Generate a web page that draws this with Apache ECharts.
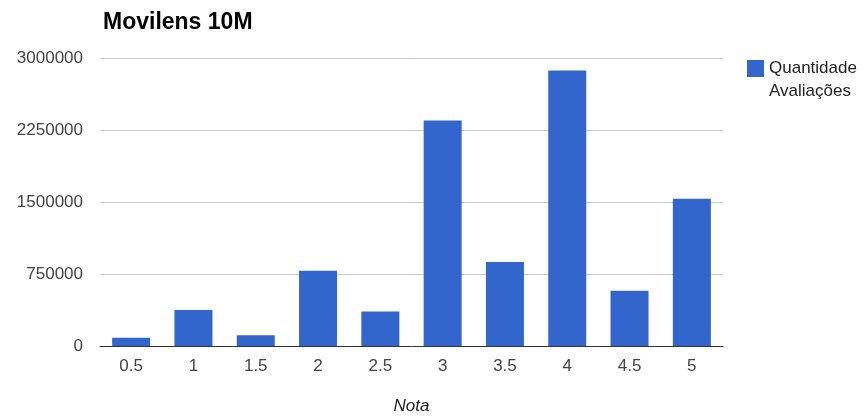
<!DOCTYPE html>
<html>
<head>
<meta charset="utf-8">
<script src="https://cdn.jsdelivr.net/npm/echarts@6/dist/echarts.min.js"></script>
<style>
  html, body { margin: 0; padding: 0; background: #fff; }
  #chart { width: 863px; height: 419px; }
</style>
</head>
<body>
<div id="chart"></div>
<script>
// Rating buckets and number of ratings in each
const notas = ['0.5', '1', '1.5', '2', '2.5', '3', '3.5', '4', '4.5', '5'];
const quantidade = [85000, 375000, 112000, 785000, 360000, 2350000, 875000, 2870000, 575000, 1535000];
const yTicks = [0, 750000, 1500000, 2250000, 3000000];

const FONT = '"Liberation Sans", Arial, sans-serif';

const chart = echarts.init(document.getElementById('chart'), null, { renderer: 'canvas' });

chart.setOption({
  backgroundColor: '#ffffff',
  animation: false,
  title: {
    text: 'Movilens 10M',
    left: 98,
    top: 6,
    textStyle: { fontFamily: FONT, fontSize: 23, fontWeight: 'bold', color: '#000' }
  },
  legend: {
    left: 742,
    top: 29,
    orient: 'vertical',
    itemWidth: 17,
    itemHeight: 17,
    icon: 'rect',
    // leading blank line keeps the swatch level with the first line of text
    formatter: () => ' \nQuantidade\nAvaliações',
    textStyle: { fontFamily: FONT, fontSize: 17, color: '#222', lineHeight: 23 },
    data: ['Quantidade Avaliações']
  },
  grid: { left: 100, right: 140, top: 58, bottom: 73, outerBoundsMode: 'none', containLabel: false },
  xAxis: {
    type: 'category',
    data: notas,
    name: 'Nota',
    nameLocation: 'middle',
    nameGap: 52,
    nameTextStyle: { fontFamily: FONT, fontSize: 17, fontStyle: 'italic', color: '#222' },
    axisLine: { lineStyle: { color: '#333', width: 1 } },
    axisTick: { show: false },
    axisLabel: { fontFamily: FONT, fontSize: 17, color: '#444', margin: 12 }
  },
  yAxis: {
    type: 'value',
    min: yTicks[0],
    max: yTicks[yTicks.length - 1],
    interval: yTicks[1] - yTicks[0],
    axisLine: { show: false },
    axisTick: { show: false },
    splitLine: { lineStyle: { color: '#cccccc', width: 1 } },
    axisLabel: {
      fontFamily: FONT, fontSize: 17, color: '#444', margin: 17,
      formatter: v => String(v)
    }
  },
  series: [{
    name: 'Quantidade Avaliações',
    type: 'bar',
    data: quantidade,
    barWidth: '61%',
    itemStyle: { color: '#3366cc' }
  }]
});
</script>
</body>
</html>
